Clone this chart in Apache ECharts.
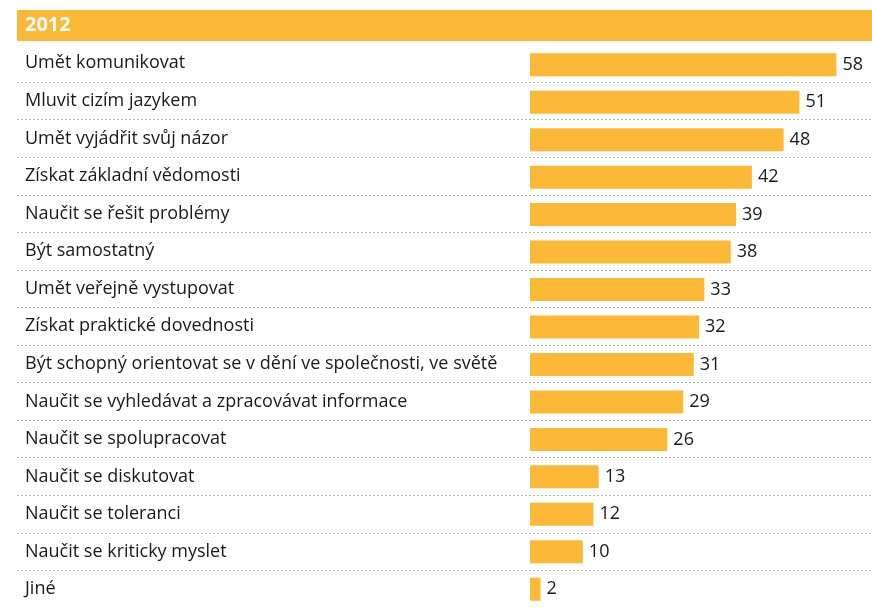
<!DOCTYPE html>
<html>
<head>
<meta charset="utf-8">
<script src="https://cdn.jsdelivr.net/npm/echarts@6/dist/echarts.min.js"></script>
<style>
  html, body { margin: 0; padding: 0; background: #fff; }
  #chart { width: 872px; height: 608px; }
</style>
</head>
<body>
<div id="chart"></div>
<script>
// data
const year = "2012";
const categories = [
  "Umět komunikovat",
  "Mluvit cizím jazykem",
  "Umět vyjádřit svůj názor",
  "Získat základní vědomosti",
  "Naučit se řešit problémy",
  "Být samostatný",
  "Umět veřejně vystupovat",
  "Získat praktické dovednosti",
  "Být schopný orientovat se v dění ve společnosti, ve světě",
  "Naučit se vyhledávat a zpracovávat informace",
  "Naučit se spolupracovat",
  "Naučit se diskutovat",
  "Naučit se toleranci",
  "Naučit se kriticky myslet",
  "Jiné"
];
const values = [58, 51, 48, 42, 39, 38, 33, 32, 31, 29, 26, 13, 12, 10, 2];

const orange = "#FCB937";
const font = "Open Sans";

const chart = echarts.init(document.getElementById("chart"));

const option = {
  animation: false,
  textStyle: { fontFamily: font },
  graphic: [
    {
      type: "rect",
      shape: { x: 17, y: 10, width: 855, height: 31 },
      style: { fill: orange }
    },
    {
      type: "text",
      left: 25,
      top: 15,
      style: { text: year, fill: "#fff", font: "bold 20px 'Open Sans'" }
    }
  ],
  grid: [
    // full-width rows (labels + dotted separators)
    { left: 17, right: 0, top: 44.5, height: 567 },
    // bars
    { left: 530, width: 317, top: 46, height: 567 }
  ],
  xAxis: [
    { gridIndex: 0, type: "value", show: false, min: 0, max: 1 },
    { gridIndex: 1, type: "value", show: false, min: 0, max: 60 }
  ],
  yAxis: [
    {
      gridIndex: 0,
      type: "category",
      inverse: true,
      data: categories,
      axisLine: { show: false },
      axisTick: { show: false },
      axisLabel: {
        align: "left",
        margin: -8,
        fontSize: 18,
        color: "#1a1a1a",
        fontFamily: font
      },
      splitLine: {
        show: true,
        showMinLine: false,
        showMaxLine: false,
        lineStyle: { color: "#b5b5b5", type: [2, 2], width: 1 }
      }
    },
    {
      gridIndex: 1,
      type: "category",
      inverse: true,
      data: categories,
      show: false
    }
  ],
  series: [
    {
      type: "bar",
      xAxisIndex: 1,
      yAxisIndex: 1,
      data: values,
      barWidth: 23,
      itemStyle: { color: orange },
      label: {
        show: true,
        position: "right",
        distance: 6,
        fontSize: 18,
        color: "#1a1a1a",
        fontFamily: font
      }
    }
  ]
};

chart.setOption(option);
</script>
</body>
</html>
